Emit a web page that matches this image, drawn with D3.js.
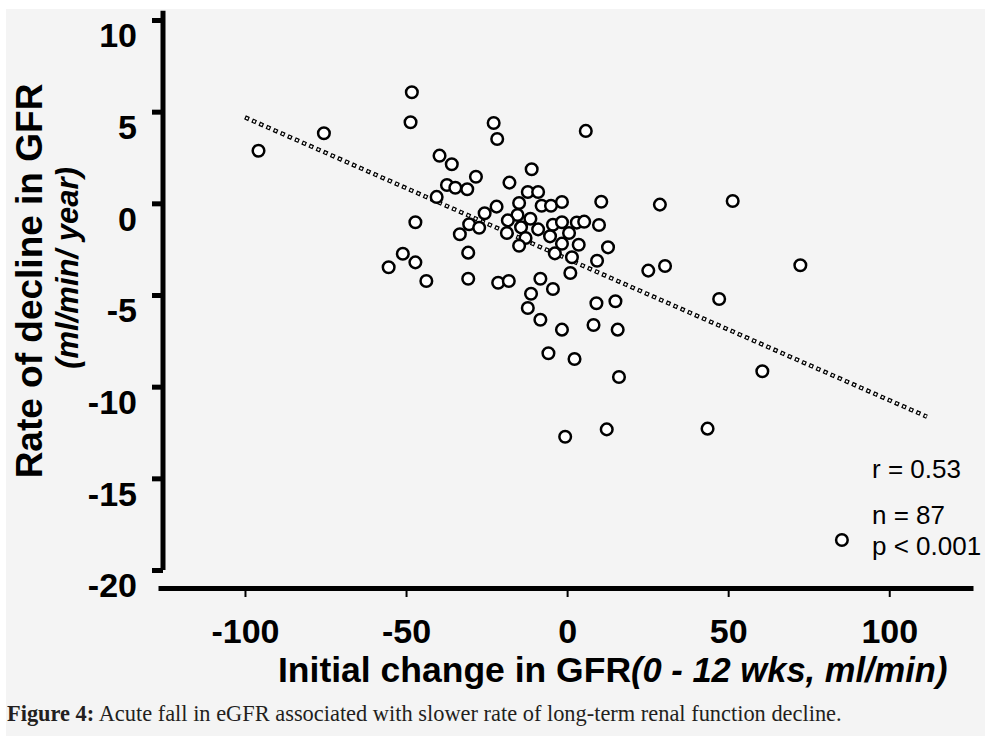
<!DOCTYPE html>
<html lang="en">

<head>
    <meta charset="UTF-8">
    <title>Initial change in GFR vs rate of decline</title>
    <style>
        body {
            margin: 0;
            background: #fff;
            font-family: "Liberation Sans", Arial, sans-serif;
        }
    </style>
</head>

<body>
    <div id="chart"></div>
    <script src="https://d3js.org/d3.v7.min.js"></script>
    <script>
        // initial change in GFR, 0 - 12 wks (ml/min)
        const gfrChange = [
            -95.8, -75.5, -48.2, -48.6, -39.6, -35.8, -28.3, -37.3, -34.7, -31.0,
            -40.5, -47.1, -30.4, -33.3, -51.0, -47.1, -55.4, -30.7, -43.7, -30.7,
            -22.8, -21.7, 5.8, -11.0, -17.9, -12.2, -9.0, -14.9, -7.9, -5.0,
            -1.6, 10.6, -21.9, -25.6, -15.4, -11.4, -18.4, -4.4, -1.6, 3.0,
            5.3, 9.9, -27.3, -14.3, -9.0, -18.7, -12.9, -5.3, 0.6, -1.6,
            3.6, -14.9, -3.8, 12.7, 1.5, 9.3, 1.0, -8.3, -21.4, -18.1,
            -4.4, -11.2, 9.1, 15.0, -12.2, -8.3, -1.6, 8.2, 15.7, -5.8,
            2.3, 16.1, -0.6, 12.3, 28.8, 51.4, 25.2, 30.4, 72.4, 47.2,
            60.6, 43.6, 85.3
        ];
        // rate of decline in GFR (ml/min/year)
        const declineRate = [
            2.87, 3.82, 6.06, 4.42, 2.60, 2.13, 1.45, 1.00, 0.85, 0.77,
            0.35, -1.03, -1.14, -1.69, -2.75, -3.22, -3.49, -2.69, -4.24, -4.11,
            4.38, 3.51, 3.95, 1.86, 1.13, 0.62, 0.62, 0.02, -0.13, -0.13,
            0.07, 0.09, -0.18, -0.54, -0.64, -0.84, -0.93, -1.17, -1.03, -1.05,
            -1.00, -1.18, -1.33, -1.31, -1.42, -1.62, -1.89, -1.80, -1.62, -2.20,
            -2.26, -2.31, -2.73, -2.40, -2.94, -3.13, -3.80, -4.11, -4.33, -4.24,
            -4.67, -4.93, -5.45, -5.34, -5.71, -6.35, -6.89, -6.64, -6.89, -8.18,
            -8.49, -9.47, -12.73, -12.33, -0.07, 0.13, -3.67, -3.42, -3.38, -5.22,
            -9.16, -12.29, -18.36
        ];
        // regression line end points
        const trendX = [-100, 111.7];
        const trendY = [4.69, -11.64];

        const xTicks = [-100, -50, 0, 50, 100];
        const yTicks = [10, 5, 0, -5, -10, -15, -20];
        const statLines = ["r = 0.53", "n = 87", "p < 0.001"];

        function createScatter() {
            const width = 991;
            const height = 742;
            const xAxisY = 588;
            const bg = "#f4f4f4";
            const plain = d => String(d); // hyphen minus, like the original

            const points = gfrChange.map((d, i) => ({ x: d, y: declineRate[i] }));

            const x = d3.scaleLinear()
                .domain([-127, 126])
                .range([158, 973]);

            const y = d3.scaleLinear()
                .domain([-20, 10])
                .range([570, 20]);

            const svg = d3.select("#chart").append("svg")
                .attr("width", width)
                .attr("height", height)
                .attr("viewBox", [0, 0, width, height]);

            svg.append("rect")
                .attr("x", 6)
                .attr("y", 9)
                .attr("width", 979)
                .attr("height", 727)
                .attr("fill", bg);

            // y axis
            svg.append("line")
                .attr("x1", 163)
                .attr("x2", 163)
                .attr("y1", y(-20))
                .attr("y2", y(10.5))
                .attr("stroke", "#000")
                .attr("stroke-width", 5);

            svg.append("g")
                .attr("transform", "translate(163,0)")
                .call(d3.axisLeft(y).tickValues(yTicks).tickFormat(plain).tickSize(11).tickPadding(15))
                .call(g => g.select(".domain").remove())
                .call(g => g.selectAll(".tick line")
                    .attr("stroke", "#000")
                    .attr("stroke-width", 5))
                .call(g => g.selectAll(".tick text")
                    .attr("y", 16)
                    .attr("fill", "#000")
                    .attr("font-family", "'Liberation Sans', Arial, sans-serif")
                    .attr("font-weight", "bold")
                    .attr("font-size", 34));

            // x axis
            svg.append("g")
                .attr("transform", `translate(0,${xAxisY})`)
                .call(d3.axisBottom(x).tickValues(xTicks).tickFormat(plain).tickSize(9).tickSizeOuter(0).tickPadding(22))
                .call(g => g.select(".domain")
                    .attr("stroke", "#000")
                    .attr("stroke-width", 5))
                .call(g => g.selectAll(".tick line")
                    .attr("stroke", "#000")
                    .attr("stroke-width", 2))
                .call(g => g.selectAll(".tick text")
                    .attr("fill", "#000")
                    .attr("font-family", "'Liberation Sans', Arial, sans-serif")
                    .attr("font-weight", "bold")
                    .attr("font-size", 34));

            // regression line drawn as small hollow squares
            const trend = d3.line()
                .x(d => x(d[0]))
                .y(d => y(d[1]));
            const trendData = d3.zip(trendX, trendY);

            svg.append("path")
                .datum(trendData)
                .attr("d", trend)
                .attr("fill", "none")
                .attr("stroke", "#000")
                .attr("stroke-width", 4.4)
                .attr("stroke-dasharray", "4.4 3.4");

            svg.append("path")
                .datum(trendData)
                .attr("d", trend)
                .attr("fill", "none")
                .attr("stroke", "#fff")
                .attr("stroke-width", 2)
                .attr("stroke-dasharray", "2 5.8")
                .attr("stroke-dashoffset", -1.2);

            // points
            svg.append("g")
                .selectAll("circle")
                .data(points)
                .join("circle")
                .attr("cx", d => x(d.x))
                .attr("cy", d => y(d.y))
                .attr("r", 5.8)
                .attr("fill", "#fff")
                .attr("stroke", "#000")
                .attr("stroke-width", 2.5);

            // stats
            svg.append("g")
                .selectAll("text")
                .data(statLines)
                .join("text")
                .attr("x", 872)
                .attr("y", (d, i) => [478, 524, 555][i])
                .attr("font-size", 26)
                .attr("fill", "#000")
                .text(d => d);

            // axis titles
            svg.append("text")
                .attr("transform", "translate(42,281) rotate(-90)")
                .attr("text-anchor", "middle")
                .attr("font-weight", "bold")
                .attr("font-size", 37)
                .text("Rate of decline in GFR");

            svg.append("text")
                .attr("transform", "translate(78,268) rotate(-90)")
                .attr("text-anchor", "middle")
                .attr("font-weight", "bold")
                .attr("font-style", "italic")
                .attr("font-size", 31)
                .text("(ml/min/ year)");

            const xTitle = svg.append("text")
                .attr("x", 278)
                .attr("y", 682)
                .attr("font-weight", "bold");
            xTitle.append("tspan")
                .attr("font-size", 35.5)
                .text("Initial change in GFR");
            xTitle.append("tspan")
                .attr("font-size", 34.5)
                .attr("font-style", "italic")
                .text("(0 - 12 wks, ml/min)");

            // caption
            const caption = svg.append("text")
                .attr("x", 7)
                .attr("y", 721)
                .attr("font-family", "'Liberation Serif', 'Times New Roman', serif")
                .attr("font-size", 22.4)
                .attr("fill", "#231f20");
            caption.append("tspan")
                .attr("font-weight", "bold")
                .text("Figure 4:");
            caption.append("tspan")
                .text(" Acute fall in eGFR associated with slower rate of long-term renal function decline.");
        }

        document.addEventListener("DOMContentLoaded", createScatter);
    </script>
</body>

</html>
